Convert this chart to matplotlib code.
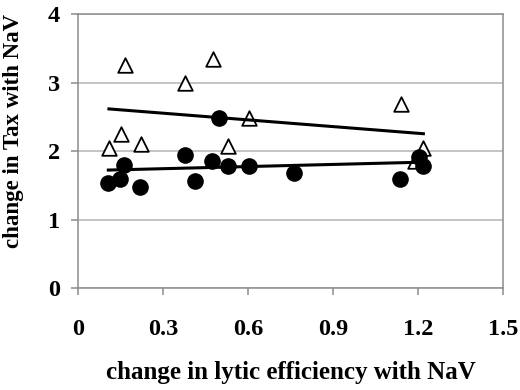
import numpy as np
import matplotlib
matplotlib.use("Agg")
from matplotlib import pyplot as plt

# -------------------- Data --------------------
# open triangles
tri_x = [0.109, 0.150, 0.164, 0.221, 0.379, 0.475, 0.529, 0.604, 1.138, 1.188, 1.218]
tri_y = [2.04, 2.25, 3.26, 2.11, 3.00, 3.34, 2.08, 2.48, 2.69, 1.86, 2.04]
# filled circles
dot_x = [0.107, 0.148, 0.162, 0.218, 0.377, 0.412, 0.474, 0.498, 0.529, 0.602,
         0.762, 1.135, 1.201, 1.218]
dot_y = [1.53, 1.59, 1.80, 1.47, 1.95, 1.57, 1.85, 2.48, 1.79, 1.79,
         1.68, 1.59, 1.92, 1.78]

x_ticks = [0, 0.3, 0.6, 0.9, 1.2, 1.5]
x_labels = ["0", "0.3", "0.6", "0.9", "1.2", "1.5"]
y_ticks = [0, 1, 2, 3, 4]


def lin_trend(x, y):
    """Least-squares linear trendline over the data range"""
    x = np.asarray(x, dtype=float)
    y = np.asarray(y, dtype=float)
    b, a = np.polyfit(x, y, 1)
    xs = np.array([x.min(), x.max()])
    return xs, a + b * xs


# -------------------- Plot --------------------
plt.rcParams["font.family"] = ["Liberation Serif", "DejaVu Serif"]
plt.rcParams["font.weight"] = "bold"

fig = plt.figure(figsize=(5.2, 3.9), dpi=100)
ax = fig.add_axes([0.150, 0.261, 0.818, 0.703])

ax.scatter(tri_x, tri_y, marker="^", s=110, facecolors="white",
           edgecolors="black", linewidths=1.3, zorder=3)
ax.scatter(dot_x, dot_y, marker="o", s=120, color="black", zorder=4)

for xs, ys in (lin_trend(tri_x, tri_y), lin_trend(dot_x, dot_y)):
    ax.plot(xs, ys, color="black", lw=2.2, zorder=5)

ax.set_xlim(0, 1.5)
ax.set_ylim(0, 4)
ax.set_xticks(x_ticks)
ax.set_xticklabels(x_labels)
ax.set_yticks(y_ticks)
ax.yaxis.grid(True, color="#b4b4b4", lw=1.1)
ax.set_axisbelow(True)

for side in ("left", "bottom", "top", "right"):
    ax.spines[side].set_color("#8c8c8c")
    ax.spines[side].set_linewidth(1.1)
ax.tick_params(axis="both", direction="out", length=5, width=1.1,
               color="#8c8c8c", labelsize=17.5, pad=8)
ax.tick_params(axis="x", pad=17)

ax.set_xlabel("change in lytic efficiency with NaV", fontsize=18,
              fontweight="bold", labelpad=15)
ax.set_ylabel("change in Tax with NaV", fontsize=16.5, fontweight="bold")
ax.yaxis.set_label_coords(-0.127, 0.573)

fig.savefig("out.png", dpi=100)
